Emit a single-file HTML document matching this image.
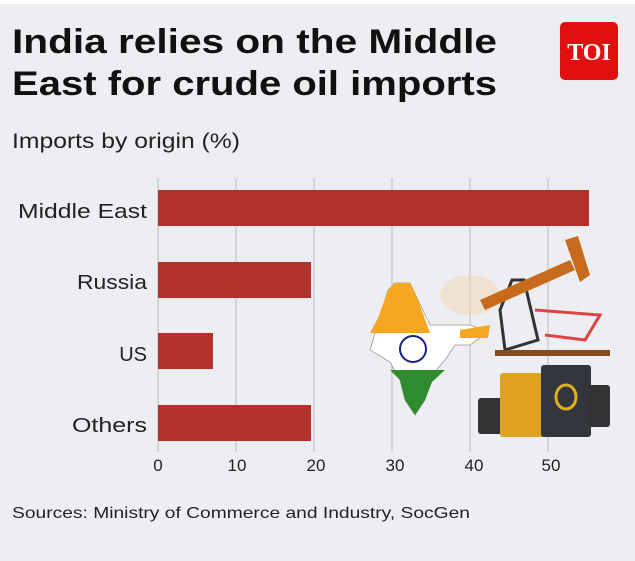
<!DOCTYPE html>
<html><head><meta charset="utf-8"><style>
body{margin:0;width:635px;height:561px;overflow:hidden;background:#fff;font-family:"Liberation Sans",sans-serif}
.bg{position:absolute;left:0;top:4px;width:635px;height:557px;background:#eceef1}
</style></head><body>
<div class="bg"></div>
<svg width="635" height="561" style="position:absolute;left:0;top:0" font-family="Liberation Sans, sans-serif">
<text x="12" y="53" font-size="34" font-weight="bold" fill="#111" textLength="485" lengthAdjust="spacingAndGlyphs">India relies on the Middle</text>
<text x="12" y="95" font-size="34" font-weight="bold" fill="#111" textLength="485" lengthAdjust="spacingAndGlyphs">East for crude oil imports</text>
<rect x="560" y="22" width="58" height="58" rx="5" fill="#e01010"/>
<text x="589" y="60" font-size="24" font-weight="bold" fill="#fff" text-anchor="middle" font-family="Liberation Serif, serif">TOI</text>
<text x="12" y="148" font-size="21" fill="#222" textLength="228" lengthAdjust="spacingAndGlyphs">Imports by origin (%)</text>
<g stroke="#bbb" stroke-width="1">
<line x1="158" y1="178" x2="158" y2="452"/><line x1="236" y1="178" x2="236" y2="452"/><line x1="314" y1="178" x2="314" y2="452"/><line x1="392" y1="178" x2="392" y2="452"/><line x1="470" y1="178" x2="470" y2="452"/><line x1="548" y1="178" x2="548" y2="452"/>
</g>
<g fill="#b4302c">
<rect x="158" y="190" width="431" height="36"/>
<rect x="158" y="262" width="153" height="36"/>
<rect x="158" y="333" width="55" height="36"/>
<rect x="158" y="405" width="153" height="36"/>
</g>
<g font-size="20" fill="#222" text-anchor="end">
<text x="147" y="218" textLength="129" lengthAdjust="spacingAndGlyphs">Middle East</text><text x="147" y="289" textLength="70" lengthAdjust="spacingAndGlyphs">Russia</text><text x="147" y="361">US</text><text x="147" y="432" textLength="75" lengthAdjust="spacingAndGlyphs">Others</text>
</g>
<g font-size="17" fill="#222" text-anchor="middle">
<text x="158" y="471">0</text><text x="237" y="471">10</text><text x="316" y="471">20</text><text x="395" y="471">30</text><text x="474" y="471">40</text><text x="551" y="471">50</text>
</g>
<text x="12" y="518" font-size="16" fill="#222" textLength="458" lengthAdjust="spacingAndGlyphs">Sources: Ministry of Commerce and Industry, SocGen</text>
<ellipse cx="470" cy="295" rx="30" ry="20" fill="#f3d3b0" opacity="0.45"/>
<path d="M388,290 L395,283 L410,283 L418,300 L430,325 L470,325 L488,332 L470,345 L455,345 L445,360 L432,375 L425,400 L415,415 L405,400 L400,380 L390,362 L370,350 Z" fill="#fff" stroke="#999" stroke-width="0.8"/>
<path d="M388,290 L395,283 L410,283 L418,300 L430,333 L370,333 L378,318 Z M460,330 L490,325 L488,338 L460,338 Z" fill="#f5a623"/>
<path d="M390,370 L445,370 L432,382 L425,400 L415,415 L405,400 L400,380 Z" fill="#2e8b2e"/>
<circle cx="413" cy="349" r="13" fill="none" stroke="#1a237e" stroke-width="2"/>
<path d="M500,310 L512,280 L524,280 L538,340 L505,350 Z" fill="none" stroke="#333" stroke-width="3"/>
<path d="M480,300 L570,260 L575,270 L485,310 Z" fill="#c86a1c"/>
<path d="M565,240 L578,236 L590,275 L580,282 Z" fill="#c86a1c"/>
<rect x="495" y="350" width="115" height="6" fill="#8a4a1c"/>
<path d="M535,310 L600,315 L585,340 L545,335" fill="none" stroke="#d44" stroke-width="3"/>
<rect x="478" y="398" width="28" height="36" rx="3" fill="#333"/>
<rect x="500" y="373" width="45" height="64" rx="3" fill="#e0a020"/>
<rect x="541" y="365" width="50" height="72" rx="3" fill="#33373d"/>
<ellipse cx="566" cy="397" rx="10" ry="12" fill="none" stroke="#e0b020" stroke-width="3"/>
<rect x="588" y="385" width="22" height="42" rx="3" fill="#333"/>
</svg>
</body></html>
